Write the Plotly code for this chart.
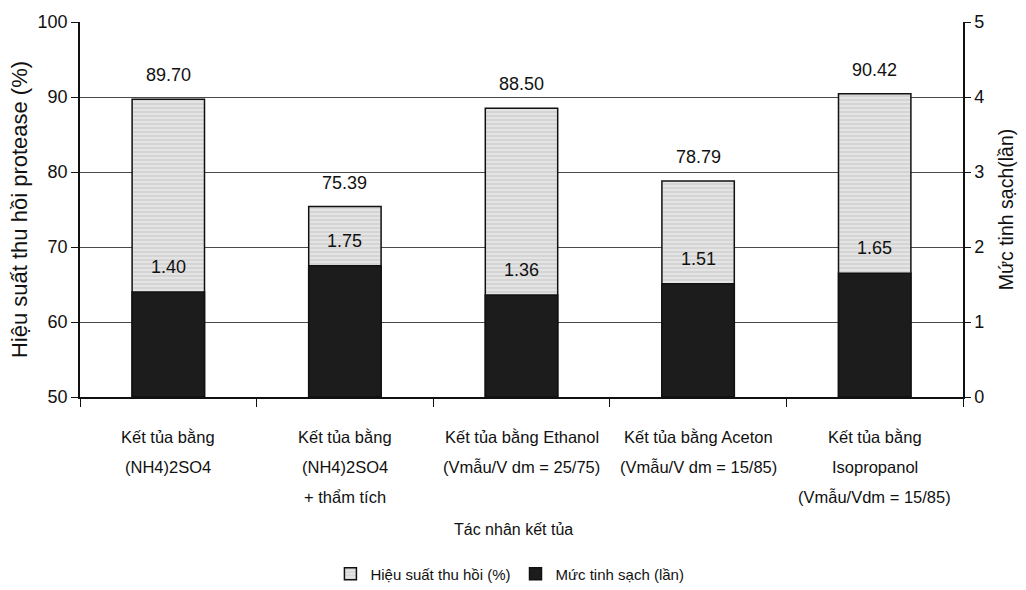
import plotly.graph_objects as go

categories = ["c1", "c2", "c3", "c4", "c5"]
category_lines = [
    ["Kết tủa bằng", "(NH4)2SO4"],
    ["Kết tủa bằng", "(NH4)2SO4", "+ thẩm tích"],
    ["Kết tủa bằng Ethanol", "(Vmẫu/V dm = 25/75)"],
    ["Kết tủa bằng Aceton", "(Vmẫu/V dm = 15/85)"],
    ["Kết tủa bằng", "Isopropanol", "(Vmẫu/Vdm = 15/85)"],
]
recovery = [89.70, 75.39, 88.50, 78.79, 90.42]      # Hiệu suất thu hồi (%)
purification = [1.40, 1.75, 1.36, 1.51, 1.65]      # Mức tinh sạch (lần)
left_ticks = [50, 60, 70, 80, 90, 100]
right_ticks = [0, 1, 2, 3, 4, 5]

NARROW = "'Liberation Sans Narrow', 'Arial Narrow', 'Liberation Sans', Arial, sans-serif"
REG = "'Liberation Sans', Arial, sans-serif"

fig = go.Figure()
fig.add_trace(go.Bar(
    x=categories, y=recovery, yaxis="y", name="Hiệu suất thu hồi (%)",
    width=0.41,
    marker=dict(color="#e2e2e2", line=dict(color="#111", width=1.5),
                pattern=dict(shape="-", fgcolor="#b0b0b0", bgcolor="#e4e4e4", size=4, solidity=0.3)),
))
fig.add_trace(go.Bar(
    x=categories, y=purification, yaxis="y2", name="Mức tinh sạch (lần)",
    width=0.41,
    marker=dict(color="#1c1c1c", line=dict(color="#111", width=1.5)),
))

annotations = []
for c, v in zip(categories, recovery):
    annotations.append(dict(x=c, y=v, xref="x", yref="y", text=f"{v:.2f}", showarrow=False,
                            yshift=24, font=dict(family=NARROW, size=18, color="#111")))
for c, v in zip(categories, purification):
    annotations.append(dict(x=c, y=v, xref="x", yref="y2", text=f"{v:.2f}", showarrow=False,
                            yshift=25, font=dict(family=NARROW, size=18, color="#111")))
for c, lines in zip(categories, category_lines):
    for j, t in enumerate(lines):
        annotations.append(dict(x=c, y=0, xref="x", yref="paper", text=t, showarrow=False,
                                yanchor="middle", yshift=-(40 + 30 * j),
                                font=dict(family=NARROW, size=16.5, color="#111")))
annotations.append(dict(x=0.491, y=(397 - 531) / 378, xref="paper", yref="paper",
                        text="Tác nhân kết tủa", showarrow=False, yanchor="middle",
                        font=dict(family=NARROW, size=16, color="#111")))

fig.update_layout(
    width=1026, height=590,
    margin=dict(l=80, r=60, t=19, b=193),
    paper_bgcolor="white", plot_bgcolor="white",
    barmode="overlay",
    showlegend=True,
    legend=dict(orientation="h", xref="container", yref="container", x=0.497, y=0.027,
                xanchor="center", yanchor="middle",
                font=dict(family=NARROW, size=15, color="#111"),
                itemwidth=30, traceorder="normal"),
    xaxis=dict(showticklabels=False, ticks="outside", tickson="boundaries", ticklen=8,
               tickcolor="#111", showline=True, linecolor="#111", linewidth=1.5,
               showgrid=False, zeroline=False),
    yaxis=dict(range=[50, 100], tickvals=left_ticks, ticks="outside", ticklen=7,
               tickcolor="#111", showline=True, linecolor="#111", linewidth=1.5,
               showgrid=True, gridcolor="#4a4a4a", gridwidth=1, zeroline=False,
               tickfont=dict(family=NARROW, size=18, color="#111"),
               title=dict(text="Hiệu suất thu hồi protease (%)", standoff=4,
                          font=dict(family=REG, size=22, color="#111"))),
    yaxis2=dict(range=[0, 5], tickvals=right_ticks, overlaying="y", side="right",
                ticks="outside", ticklen=6, tickcolor="#111", showline=True,
                linecolor="#111", linewidth=1.5, showgrid=False, zeroline=False,
                tickfont=dict(family=NARROW, size=18, color="#111"),
                title=dict(text="Mức tinh sạch(lần)", standoff=16,
                           font=dict(family=REG, size=19.5, color="#111"))),
    annotations=annotations,
)

fig.write_html("out.html")
